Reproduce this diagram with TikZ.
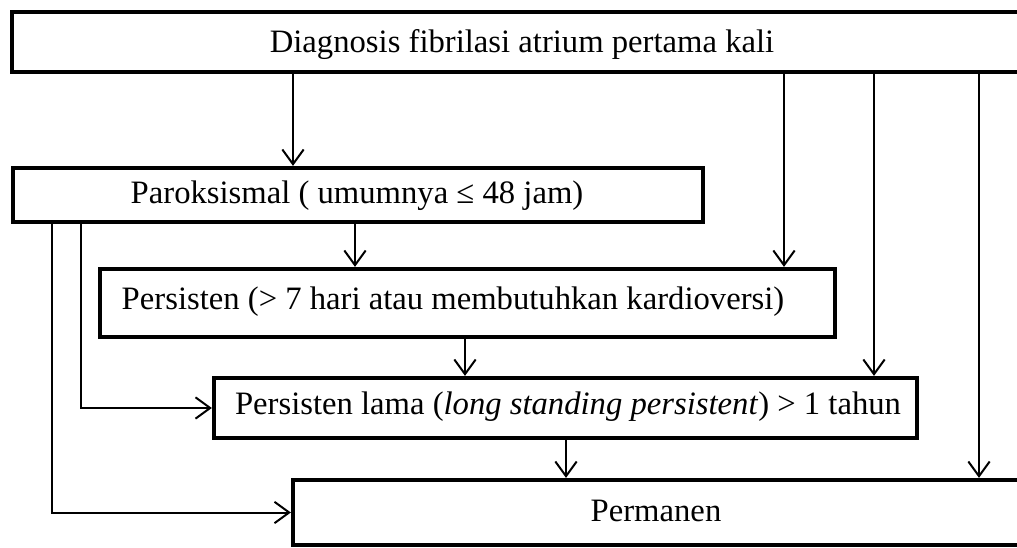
\documentclass[tikz,border=0pt]{standalone}
\usepackage{fontspec}
\setmainfont{Liberation Serif}
\usetikzlibrary{arrows.meta}
\begin{document}
\begin{tikzpicture}[x=0.75pt,y=-0.75pt,
  box/.style={draw, line width=3.2pt, inner sep=0pt, rectangle},
  lbl/.style={inner sep=0pt, font=\fontsize{24.5}{29}\selectfont},
  arr/.style={line width=1.5pt, -{Straight Barb[length=11pt,width=16pt,line width=1.5pt]}}]
\clip (0,0) rectangle (1017,548);
\fill[white] (0,0) rectangle (1017,548);
\node[box, minimum width=771pt, minimum height=45pt] (top) at (526,42) {};
\node[box, minimum width=517.5pt, minimum height=40.5pt] (parok) at (358,195) {};
\node[box, minimum width=551.25pt, minimum height=51pt] (pers) at (467.5,303) {};
\node[box, minimum width=527.25pt, minimum height=45pt] (lama) at (565.5,408) {};
\node[box, minimum width=560.25pt, minimum height=48.75pt] (perm) at (666.5,512.5) {};
\node[lbl] (ttop) at (522,45) {Diagnosis fibrilasi atrium pertama kali};
\node[lbl] (tparok) at (357,196) {Paroksismal ( umumnya ≤ 48 jam)};
\node[lbl] (tpers) at (453,302) {Persisten (> 7 hari atau membutuhkan kardioversi)};
\node[lbl] (tlama) at (568,407) {Persisten lama (\textit{long standing persistent}) > 1 tahun};
\node[lbl] (tperm) at (656,511) {Permanen};
\draw[arr] (top.south -| 293,0) -- (parok.north -| 293,0);
\draw[arr] (top.south -| 784,0) -- (pers.north -| 784,0);
\draw[arr] (top.south -| 874,0) -- (lama.north -| 874,0);
\draw[arr] (top.south -| 979,0) -- (perm.north -| 979,0);
\draw[arr] (parok.south -| 355,0) -- (pers.north -| 355,0);
\draw[arr] (pers.south -| 465,0) -- (lama.north -| 465,0);
\draw[arr] (lama.south -| 566,0) -- (perm.north -| 566,0);
\draw[arr] (parok.south -| 52,0) |- (perm.west);
\draw[arr] (parok.south -| 81,0) |- (lama.west);
\end{tikzpicture}
\end{document}
